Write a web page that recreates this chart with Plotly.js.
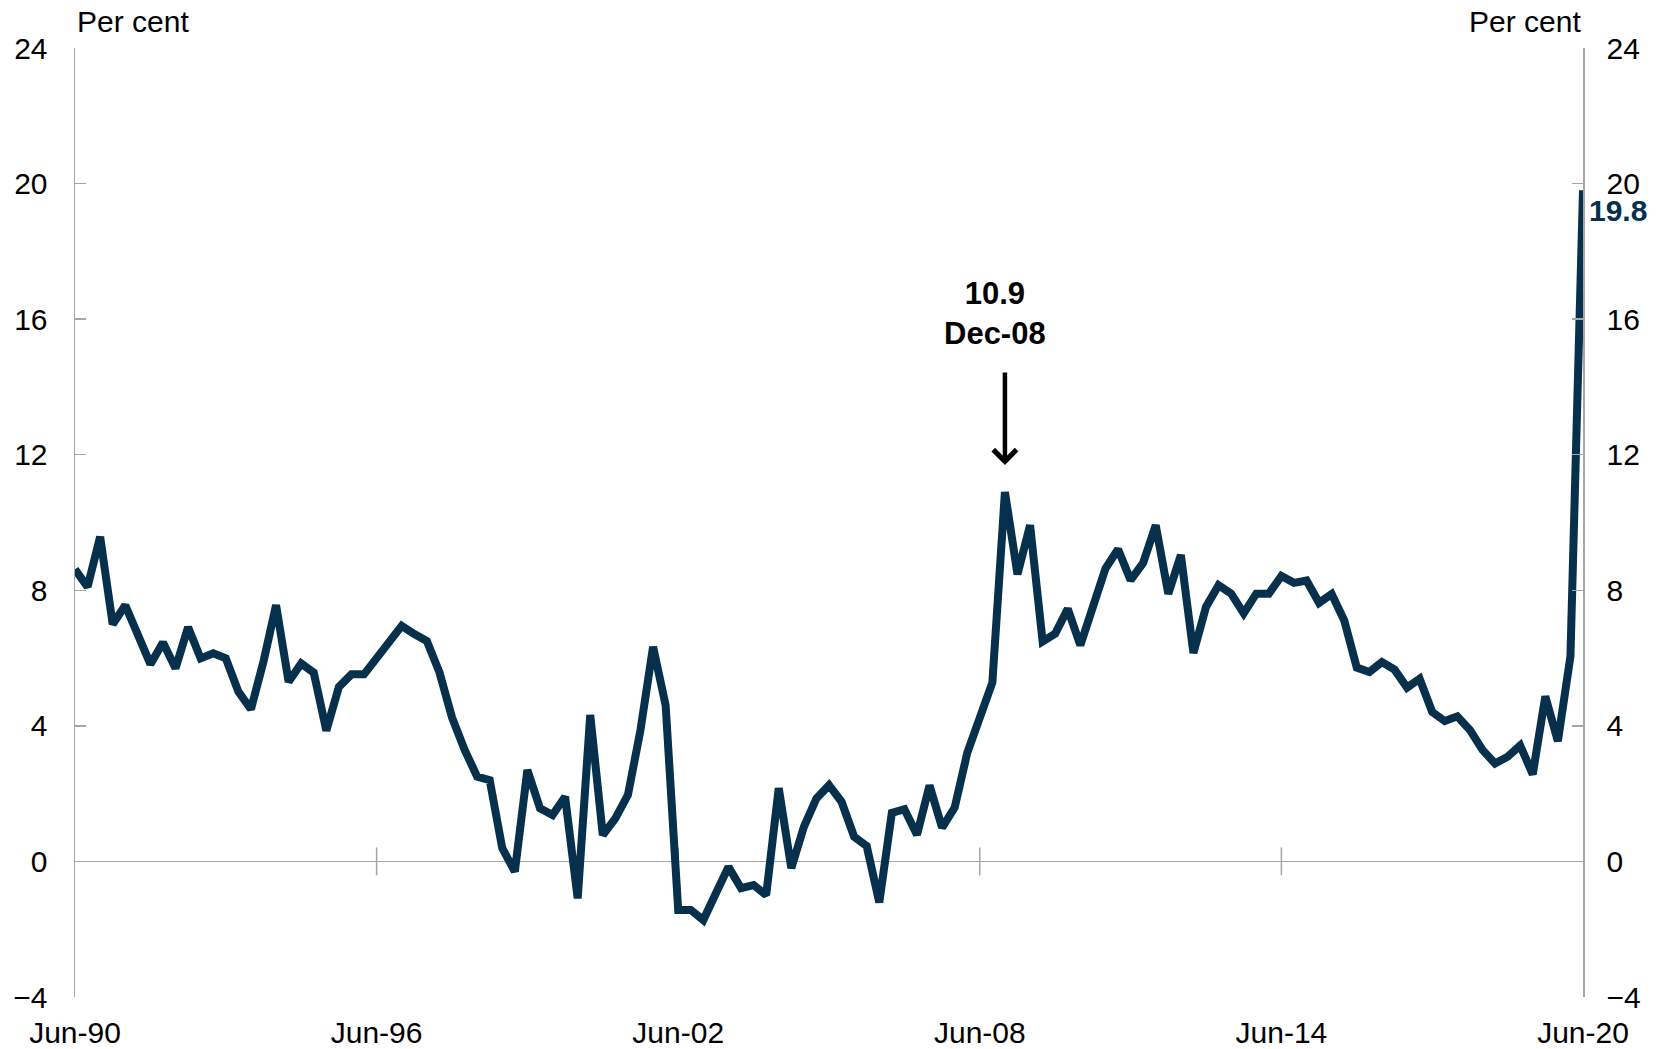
<!DOCTYPE html>
<html>
<head>
<meta charset="utf-8">
<script src="https://cdn.plot.ly/plotly-3.0.1.min.js"></script>
<style>
html,body{margin:0;padding:0;background:#fff;}
#chart{width:1667px;height:1049px;}
</style>
</head>
<body>
<div id="chart"></div>
<script>
// Quarterly categories, Jun-90 to Jun-20
const quarters = [
 'Jun-90','Sep-90','Dec-90',
 'Mar-91','Jun-91','Sep-91','Dec-91',
 'Mar-92','Jun-92','Sep-92','Dec-92',
 'Mar-93','Jun-93','Sep-93','Dec-93',
 'Mar-94','Jun-94','Sep-94','Dec-94',
 'Mar-95','Jun-95','Sep-95','Dec-95',
 'Mar-96','Jun-96','Sep-96','Dec-96',
 'Mar-97','Jun-97','Sep-97','Dec-97',
 'Mar-98','Jun-98','Sep-98','Dec-98',
 'Mar-99','Jun-99','Sep-99','Dec-99',
 'Mar-00','Jun-00','Sep-00','Dec-00',
 'Mar-01','Jun-01','Sep-01','Dec-01',
 'Mar-02','Jun-02','Sep-02','Dec-02',
 'Mar-03','Jun-03','Sep-03','Dec-03',
 'Mar-04','Jun-04','Sep-04','Dec-04',
 'Mar-05','Jun-05','Sep-05','Dec-05',
 'Mar-06','Jun-06','Sep-06','Dec-06',
 'Mar-07','Jun-07','Sep-07','Dec-07',
 'Mar-08','Jun-08','Sep-08','Dec-08',
 'Mar-09','Jun-09','Sep-09','Dec-09',
 'Mar-10','Jun-10','Sep-10','Dec-10',
 'Mar-11','Jun-11','Sep-11','Dec-11',
 'Mar-12','Jun-12','Sep-12','Dec-12',
 'Mar-13','Jun-13','Sep-13','Dec-13',
 'Mar-14','Jun-14','Sep-14','Dec-14',
 'Mar-15','Jun-15','Sep-15','Dec-15',
 'Mar-16','Jun-16','Sep-16','Dec-16',
 'Mar-17','Jun-17','Sep-17','Dec-17',
 'Mar-18','Jun-18','Sep-18','Dec-18',
 'Mar-19','Jun-19','Sep-19','Dec-19',
 'Mar-20','Jun-20'
];

// Series values (per cent)
const values = [
 8.62, 8.10, 9.58,
 7.00, 7.56, 6.70, 5.82,
 6.46, 5.70, 6.91, 5.99,
 6.14, 5.99, 5.01, 4.49,
 5.90, 7.56, 5.30, 5.84,
 5.57, 3.86, 5.15, 5.52,
 5.52, 5.99, 6.43, 6.95,
 6.71, 6.50, 5.58, 4.25,
 3.30, 2.50, 2.40, 0.39,
 -0.30, 2.70, 1.57, 1.37,
 1.91, -1.09, 4.32, 0.78,
 1.27, 1.96, 3.88, 6.33,
 4.61, -1.43, -1.43, -1.73,
 -0.94, -0.16, -0.79, -0.70,
 -0.99, 2.16, -0.20, 1.02,
 1.86, 2.25, 1.76, 0.73,
 0.45, -1.21, 1.43, 1.54,
 0.79, 2.24, 1.00, 1.59,
 3.20, 4.28, 5.28, 10.90,
 8.47, 9.92, 6.49, 6.72,
 7.45, 6.38, 7.45, 8.64,
 9.21, 8.30, 8.81, 9.92,
 7.90, 9.04, 6.15, 7.51,
 8.15, 7.90, 7.32, 7.90,
 7.90, 8.42, 8.22, 8.29,
 7.63, 7.89, 7.11, 5.72,
 5.59, 5.88, 5.66, 5.13,
 5.39, 4.41, 4.14, 4.28,
 3.88, 3.29, 2.89, 3.09,
 3.42, 2.57, 4.87, 3.55,
 6.05, 19.80
];

// Tick labels
const xTickLabels = ['Jun-90','Jun-96','Jun-02','Jun-08','Jun-14','Jun-20'];
const zeroTickLabels = ['Jun-96','Jun-02','Jun-08','Jun-14'];
const yTickVals = [-4, 0, 4, 8, 12, 16, 20, 24];

// Annotated points
const peakLabel = 'Dec-08';
const peakValue = 10.9;
const lastLabel = 'Jun-20';
const lastValue = 19.8;

const FONT = 'Liberation Sans, Arial, sans-serif';
const NAVY = '#06304B';
const GREY = '#A6A6A6';

const traces = [
  {
    x: zeroTickLabels,
    y: zeroTickLabels.map(() => 0),
    type: 'scatter',
    mode: 'markers',
    marker: {symbol: 'line-ns-open', size: 20, color: GREY, line: {color: GREY, width: 1.5}},
    hoverinfo: 'skip',
    showlegend: false
  },
  {
    x: quarters,
    y: values,
    type: 'scatter',
    mode: 'lines',
    line: {color: NAVY, width: 8},
    showlegend: false
  }
];

const axisY = {
  range: [-4, 24],
  tickvals: yTickVals,
  ticks: 'inside',
  ticklen: 11,
  tickwidth: 1.5,
  tickcolor: GREY,
  showline: true,
  linecolor: GREY,
  linewidth: 1.5,
  showgrid: false,
  zeroline: true,
  zerolinecolor: GREY,
  zerolinewidth: 1.5,
  tickfont: {family: FONT, size: 30, color: '#000'},
  fixedrange: true
};

const layout = {
  width: 1667,
  height: 1049,
  margin: {l: 75, r: 84, t: 48, b: 52},
  paper_bgcolor: '#fff',
  plot_bgcolor: '#fff',
  showlegend: false,
  font: {family: FONT, size: 30, color: '#000'},
  xaxis: {
    type: 'category',
    categoryorder: 'array',
    categoryarray: quarters,
    range: [0, quarters.length - 1],
    tickvals: xTickLabels,
    ticktext: xTickLabels,
    ticks: '',
    showline: false,
    showgrid: false,
    zeroline: false,
    tickangle: 0,
    tickfont: {family: FONT, size: 30, color: '#000'},
    ticklabelstandoff: 15,
    fixedrange: true
  },
  yaxis: Object.assign({}, axisY, {side: 'left', ticklabelstandoff: 20}),
  yaxis2: Object.assign({}, axisY, {side: 'right', overlaying: 'y', anchor: 'x', ticklabelstandoff: 16, zeroline: false}),
  annotations: [
    {xref: 'paper', yref: 'paper', x: 0, y: 1, xanchor: 'left', yanchor: 'bottom', yshift: 8,
     text: 'Per cent', showarrow: false, font: {family: FONT, size: 30, color: '#000'}},
    {xref: 'paper', yref: 'paper', x: 1, y: 1, xanchor: 'right', yanchor: 'bottom', yshift: 8,
     text: 'Per cent', showarrow: false, font: {family: FONT, size: 30, color: '#000'}},
    {xref: 'x', yref: 'y', x: peakLabel, y: peakValue + 0.8,
     text: '', showarrow: true, arrowhead: 4, arrowsize: 1, arrowwidth: 4.5, arrowcolor: '#000',
     ax: 0, ay: -94, standoff: 0},
    {xref: 'x', yref: 'y', x: peakLabel, y: peakValue + 0.8, yshift: 112, xshift: -10,
     text: '<b>' + peakValue.toFixed(1) + '</b><br><b>' + peakLabel + '</b>', showarrow: false,
     xanchor: 'center', yanchor: 'bottom', align: 'center',
     font: {family: FONT, size: 31, color: '#000'}},
    {xref: 'x', yref: 'y', x: lastLabel, y: lastValue, xanchor: 'left', yanchor: 'middle',
     xshift: 4, yshift: -20,
     text: '<b>' + lastValue.toFixed(1) + '</b>', showarrow: false,
     font: {family: FONT, size: 30, color: NAVY}}
  ]
};

// make sure yaxis2 is drawn by referencing it with an invisible copy
traces.push({x: [quarters[0]], y: [values[0]], yaxis: 'y2', type: 'scatter', mode: 'lines',
  line: {width: 0}, hoverinfo: 'skip', showlegend: false, opacity: 0});

Plotly.newPlot('chart', traces, layout, {staticPlot: true, displayModeBar: false});
</script>
</body>
</html>
